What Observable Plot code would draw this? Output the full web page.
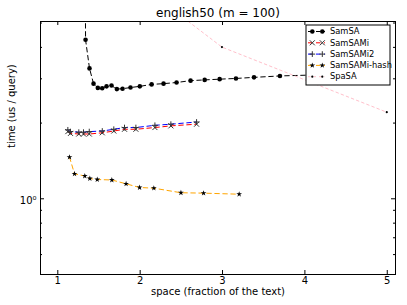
<!DOCTYPE html>
<html><head><meta charset="utf-8">
<script src="https://cdn.jsdelivr.net/npm/d3@7"></script>
<script src="https://cdn.jsdelivr.net/npm/@observablehq/plot@0.6"></script>
<style>
html,body{margin:0;padding:0;background:#fff;}
#chart svg{display:block;font-family:"DejaVu Sans",sans-serif;}
</style>
</head><body><div id="chart"></div>
<script>
// ---- data ----
const titleText = "english50 (m = 100)";
const xLabel = "space (fraction of the text)";
const yLabel = "time (us / query)";

const samSA_x = [1.328, 1.337, 1.385, 1.434, 1.486, 1.539, 1.592, 1.652, 1.717, 1.786, 1.883, 1.996, 2.139, 2.284, 2.442, 2.612, 2.783, 2.965, 3.163, 3.382, 3.697, 4.3];
const samSA_y = [20, 4.29, 3.30, 2.87, 2.76, 2.75, 2.80, 2.82, 2.73, 2.74, 2.77, 2.80, 2.85, 2.87, 2.90, 2.95, 2.97, 2.99, 3.01, 3.04, 3.08, 3.12];

const samSAMi_x = [1.122, 1.154, 1.255, 1.312, 1.382, 1.540, 1.680, 1.810, 1.948, 2.179, 2.373, 2.685];
const samSAMi_y = [1.85, 1.82, 1.81, 1.81, 1.81, 1.83, 1.86, 1.89, 1.89, 1.92, 1.95, 1.98];

const samSAMi2_x = [1.122, 1.154, 1.255, 1.312, 1.382, 1.540, 1.680, 1.810, 1.948, 2.179, 2.373, 2.685];
const samSAMi2_y = [1.88, 1.85, 1.84, 1.84, 1.85, 1.86, 1.89, 1.92, 1.92, 1.96, 1.98, 2.02];

const samSAMiHash_x = [1.142, 1.203, 1.328, 1.389, 1.479, 1.656, 1.829, 1.993, 2.166, 2.495, 2.770, 3.202];
const samSAMiHash_y = [1.464, 1.257, 1.232, 1.204, 1.193, 1.188, 1.147, 1.109, 1.102, 1.057, 1.053, 1.043];

const spaSA_x = [2.0, 2.993, 4.994];
const spaSA_y = [7.1, 4.01, 2.21];

const xTicks = [1, 2, 3, 4, 5];
const yMajorTicks = [1];
const yMajorLabels = ["10\u2070"];
const yMinorTicks = [0.6, 0.7, 0.8, 0.9, 2, 3, 4, 5];

// ---- series styles ----
const series = [
  {name: "SamSA", xs: samSA_x, ys: samSA_y, line: "black", dash: "4.5,3.5", symbol: "circle", r: 2.3, fill: "black", stroke: "none"},
  {name: "SamSAMi", xs: samSAMi_x, ys: samSAMi_y, line: "red", dash: "4.5,3.5", symbol: "times", r: 2.4, fill: "none", stroke: "#333"},
  {name: "SamSAMi2", xs: samSAMi2_x, ys: samSAMi2_y, line: "blue", dash: "4.5,3.5", symbol: "plus", r: 2, fill: "none", stroke: "#333"},
  {name: "SamSAMi-hash", xs: samSAMiHash_x, ys: samSAMiHash_y, line: "orange", dash: "4.5,3.5", symbol: "star", r: 1.8, fill: "black", stroke: "none"},
  {name: "SpaSA", xs: spaSA_x, ys: spaSA_y, line: "pink", dash: "2.5,3", symbol: "circle", r: 1.1, fill: "black", stroke: "none"}
];
const rows = s => s.xs.map((x, i) => ({x, y: s.ys[i]}));

const W = 407, H = 305, mL = 40, mR = 12, mT = 21, mB = 31;
const fw = W - mL - mR, fh = H - mT - mB;

const marks = [];
for (const s of series) {
  marks.push(Plot.line(rows(s), {x: "x", y: "y", stroke: s.line, strokeWidth: 1, strokeDasharray: s.dash, clip: true}));
}
for (const s of series) {
  marks.push(Plot.dot(rows(s), {x: "x", y: "y", symbol: s.symbol, r: s.r, fill: s.fill, stroke: s.stroke, strokeWidth: 1, clip: true}));
}
marks.push(
  Plot.frame({stroke: "black", strokeWidth: 1}),
  Plot.ruleX(xTicks, {x: d => d, insetTop: fh - 4, stroke: "black"}),
  Plot.ruleX(xTicks, {x: d => d, insetBottom: fh - 4, stroke: "black"}),
  Plot.ruleY(yMajorTicks, {y: d => d, insetRight: fw - 4, stroke: "black"}),
  Plot.ruleY(yMajorTicks, {y: d => d, insetLeft: fw - 4, stroke: "black"}),
  Plot.ruleY(yMinorTicks, {y: d => d, insetRight: fw - 2, stroke: "black"}),
  Plot.ruleY(yMinorTicks, {y: d => d, insetLeft: fw - 2, stroke: "black"}),
  Plot.text(xTicks, {x: d => d, frameAnchor: "bottom", lineAnchor: "top", dy: 2.2, text: d => String(d), fontSize: 10, fill: "black"}),
  Plot.text(yMajorTicks, {y: d => d, frameAnchor: "left", textAnchor: "end", lineAnchor: "middle", dx: -4, dy: 2, text: (d, i) => yMajorLabels[i], fontSize: 10, fill: "black"}),
  Plot.text([xLabel], {frameAnchor: "bottom", lineAnchor: "middle", dy: 17, fontSize: 10, fill: "black"}),
  Plot.text([yLabel], {frameAnchor: "left", lineAnchor: "middle", rotate: -90, dx: -29, fontSize: 10, fill: "black"}),
  Plot.text([titleText], {frameAnchor: "top", lineAnchor: "middle", dy: -8.1, fontSize: 12, fill: "black"})
);

const chart = Plot.plot({
  width: W, height: H,
  marginLeft: mL, marginRight: mR, marginTop: mT, marginBottom: mB,
  style: {background: "white", fontFamily: "DejaVu Sans", fontSize: "10px", color: "black"},
  x: {domain: [0.79, 5.1], axis: null},
  y: {type: "log", domain: [0.5, 5.07], axis: null},
  marks
});
document.getElementById("chart").appendChild(chart);

// ---- legend (upper right, white box) ----
const svg = d3.select(chart);
const lg = svg.append("g");
const box = {x: 306, y: 25, w: 84, h: 60};
lg.append("rect").attr("x", box.x).attr("y", box.y).attr("width", box.w).attr("height", box.h)
  .attr("fill", "white").attr("stroke", "black").attr("stroke-width", 1);
const symMap = {circle: d3.symbolCircle, times: d3.symbolTimes, plus: d3.symbolPlus, star: d3.symbolStar};
series.forEach((s, i) => {
  const yy = box.y + 6.5 + i * 11.3;
  lg.append("line").attr("x1", box.x + 2).attr("x2", box.x + 19).attr("y1", yy).attr("y2", yy)
    .attr("stroke", s.line).attr("stroke-width", 1).attr("stroke-dasharray", s.dash);
  for (const mx of [box.x + 6.3, box.x + 16.3]) {
    lg.append("path").attr("d", d3.symbol(symMap[s.symbol], s.r * s.r * Math.PI)())
      .attr("transform", `translate(${mx},${yy})`)
      .attr("fill", s.fill).attr("stroke", s.stroke).attr("stroke-width", 1);
  }
  lg.append("text").attr("x", box.x + 24).attr("y", yy).attr("dy", "0.33em")
    .attr("text-anchor", "start")
    .attr("font-size", 8.3).attr("fill", "black").text(s.name);
});
</script>
</body></html>
